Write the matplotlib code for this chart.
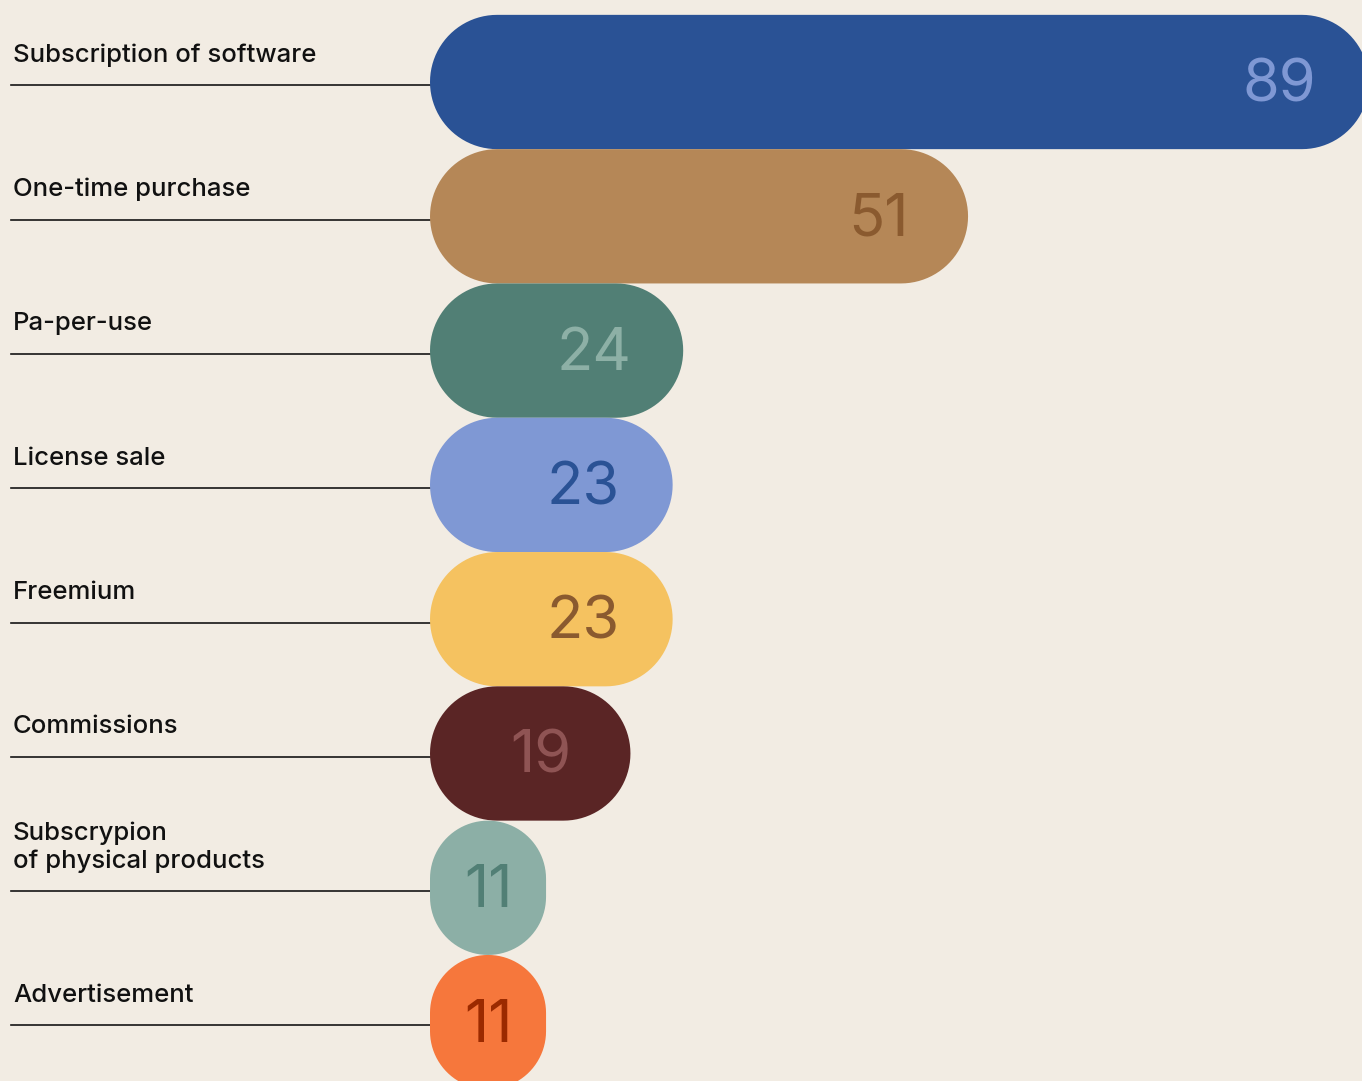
import numpy as np
import matplotlib
matplotlib.use("Agg")
import matplotlib.pyplot as plt
from matplotlib.patches import Polygon

# data
categories = [
    "Subscription of software",
    "One-time purchase",
    "Pa-per-use",
    "License sale",
    "Freemium",
    "Commissions",
    "Subscrypion\nof physical products",
    "Advertisement",
]
values = [89, 51, 24, 23, 23, 19, 11, 11]
bar_colors = ["#2A5295", "#B58757", "#517F75", "#7F98D4",
              "#F5C260", "#5A2525", "#8CAFA6", "#F6773C"]
num_colors = ["#7F98D4", "#8A5A2F", "#8DB0A6", "#2A5295",
              "#8A5A2F", "#8F5454", "#517F75", "#9B2A00"]

BG = "#F2ECE3"
W, H = 1362, 1081
px_per_unit = 10.55     # horizontal pixels per value unit
row_px = 134.3          # vertical pixels per row
left_px = 430           # where bars start
top_center_px = 82      # centre of first row


def pill(x0, y0, w, h, rx, ry, n=24):
    """outline of a rounded rectangle, corners are ellipse arcs (rx, ry)"""
    t = np.linspace(0, np.pi / 2, n)
    corners = [
        (x0 + w - rx, y0 + h - ry, t),
        (x0 + rx, y0 + h - ry, t + np.pi / 2),
        (x0 + rx, y0 + ry, t + np.pi),
        (x0 + w - rx, y0 + ry, t + 3 * np.pi / 2),
    ]
    pts = []
    for cx, cy, ang in corners:
        pts.append(np.column_stack([cx + rx * np.cos(ang), cy + ry * np.sin(ang)]))
    return np.vstack(pts)


fig = plt.figure(figsize=(W / 100, H / 100), dpi=100, facecolor=BG)
ax = fig.add_axes([0, 0, 1, 1])
ax.set_facecolor(BG)
ax.set_xlim(-left_px / px_per_unit, (W - left_px) / px_per_unit)
ax.set_ylim((H - top_center_px) / row_px, -top_center_px / row_px)
ax.axis("off")

bar_h = 1.0
r_px = bar_h * row_px / 2
label_x = ax.get_xlim()[0] + 13 / px_per_unit
line_x0 = ax.get_xlim()[0] + 11 / px_per_unit

for i, (cat, v, bc, nc) in enumerate(zip(categories, values, bar_colors, num_colors)):
    # leader line
    ax.plot([line_x0, 0], [i + 0.025, i + 0.025], color="#151515", lw=1.2, zorder=1)

    # pill shaped bar
    rr = min(r_px, v * px_per_unit / 2)
    outline = pill(0, i - bar_h / 2, v, bar_h, rr / px_per_unit, rr / row_px)
    ax.add_patch(Polygon(outline, closed=True, facecolor=bc, edgecolor="none",
                         zorder=2))

    # value inside the bar
    cx = max(v - 8.5, v / 2)
    ax.text(cx, i + 0.145, str(v), ha="center", va="baseline",
            fontsize=43, color=nc, family="Inter", fontweight="normal", zorder=3)

    # category label (baseline of the last line sits above the leader)
    ax.text(label_x, i - 0.15, cat, ha="left", va="baseline",
            fontsize=18.5, color="#111111", family="Inter", fontweight="medium",
            linespacing=1.2, zorder=3)

fig.savefig("out.png", dpi=100, facecolor=BG)
